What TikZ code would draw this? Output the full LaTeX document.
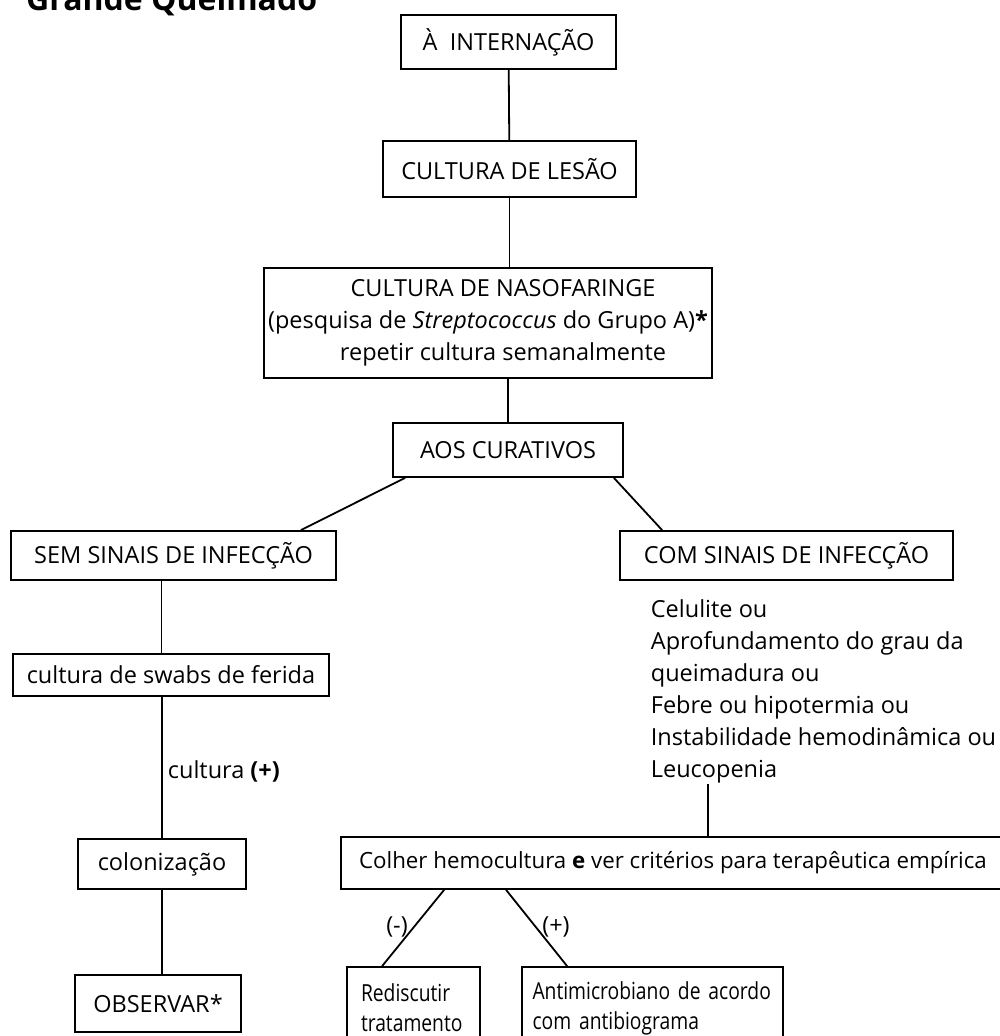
\documentclass[tikz,border=0pt]{standalone}
\usepackage{fontspec}
\setmainfont{Open Sans}
\newfontfamily\estreita[FakeStretch=0.82]{Open Sans}

\begin{document}
\begin{tikzpicture}[x=1pt, y=-1pt, line width=1.8pt,
        every node/.style={font=\fontsize{23.5}{32}\selectfont},
        caixa/.style={draw, inner sep=0pt, align=center},
        caixaesq/.style={draw, inner ysep=0pt, align=left, font=\estreita\fontsize{23.5}{30}\selectfont}]
        \useasboundingbox (0,0) rectangle (1000,1036);

        \node[anchor=base west, font=\fontsize{32}{38}\selectfont\bfseries] (titulo) at (22,10) {Grande Queimado};

        \node[caixa, minimum width=215pt, minimum height=54pt] (internacao) at (508.5,42) {À\ \ INTERNAÇÃO};
        \node[caixa, minimum width=253pt, minimum height=56pt] (lesao) at (509.5,169) {CULTURA DE LESÃO};
        \node[caixa, minimum width=448pt, minimum height=110pt] (naso) at (488,323)
        {\hspace*{30pt}CULTURA DE NASOFARINGE\\(pesquisa de \textit{Streptococcus} do Grupo A)\textbf{*}\\\hspace*{30pt}repetir cultura semanalmente};
        \node[caixa, minimum width=230pt, minimum height=54pt] (curativos) at (508,450) {AOS CURATIVOS};

        \node[caixa, minimum width=325pt, minimum height=49pt] (sem) at (173.5,555.5) {SEM SINAIS DE INFECÇÃO};
        \node[caixa, minimum width=333pt, minimum height=49pt] (com) at (786.5,555.5) {COM SINAIS DE INFECÇÃO};

        \node[caixa, minimum width=316pt, minimum height=42pt] (swabs) at (171,675) {cultura de swabs de ferida};
        \node[anchor=west, inner sep=0pt] (culturamais) at (167,771) {cultura \textbf{(+)}};
        \node[caixa, minimum width=168pt, minimum height=50pt] (colonizacao) at (162,864) {colonização};
        \node[caixa, minimum width=166pt, minimum height=57pt] (observar) at (158,1003.5) {OBSERVAR*};

        \node[anchor=north west, inner sep=0pt, align=left] (criterios) at (650,599)
        {Celulite ou\\Aprofundamento do grau da\\queimadura ou\\Febre ou hipotermia ou\\Instabilidade hemodinâmica ou\\Leucopenia};

        \node[caixa, minimum width=664pt, minimum height=52pt, font=\fontsize{22.3}{30}\selectfont] (hemo) at (673,863)
        {Colher hemocultura \textbf{e} ver critérios para terapêutica empírica};

        \node[caixaesq, inner xsep=14pt, text width=105pt, minimum height=82pt] (rediscutir) at (413.5,1008) {Rediscutir\\tratamento};
        \node[caixaesq, inner xsep=10.5pt, text width=240pt, minimum height=82pt] (antimicrobiano) at (652.5,1008) {Antimicrobiano de acordo\\com antibiograma};

        \node (negativo) at (397,927) {(-)};
        \node (positivo) at (556,927) {(+)};

        % ligacoes
        \draw (internacao) -- (lesao);
        \draw (lesao.south) -- (lesao.south |- naso.north);
        \draw (curativos.north |- naso.south) -- (curativos.north);
        \draw ([xshift=13pt]curativos.south west) -- ([xshift=-36pt]sem.north east);
        \draw ([xshift=-10pt]curativos.south east) -- ([xshift=43pt]com.north west);
        \draw ([xshift=-12pt]sem.south) -- ([xshift=-12pt]sem.south |- swabs.north);
        \draw (colonizacao.north |- swabs.south) -- (colonizacao.north);
        \draw (colonizacao.south) -- (colonizacao.south |- observar.north);
        \draw ([xshift=58pt]criterios.south west) -- ([xshift=58pt]criterios.south west |- hemo.north);
        \draw ([xshift=104pt]hemo.south west) -- ([xshift=36pt]rediscutir.north west);
        \draw ([xshift=166pt]hemo.south west) -- ([xshift=46pt]antimicrobiano.north west);
\end{tikzpicture}
\end{document}
